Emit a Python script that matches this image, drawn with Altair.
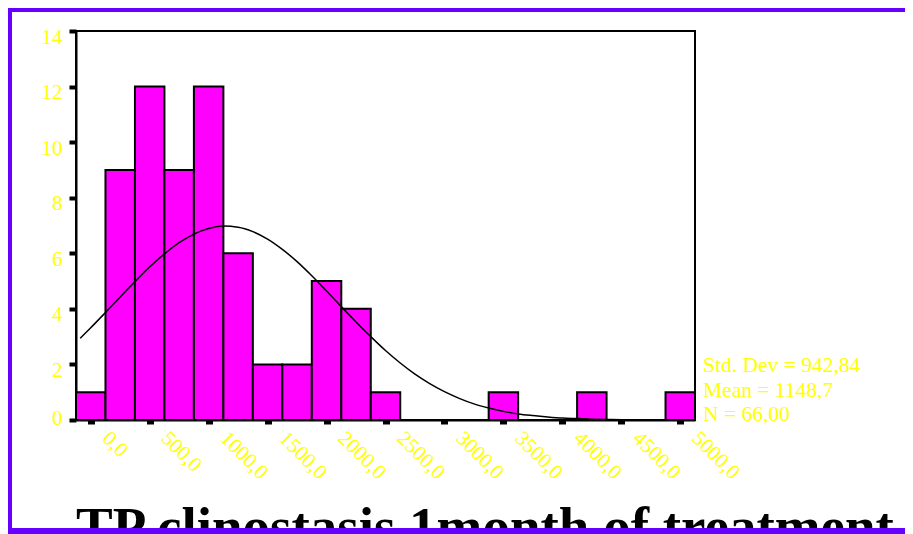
import altair as alt
import pandas as pd

# ---- data ----
bin_centers = [0, 250, 500, 750, 1000, 1250, 1500, 1750, 2000, 2250, 2500, 3500, 4250, 5000]
counts = [1, 9, 12, 9, 12, 6, 2, 2, 5, 4, 1, 1, 1, 1]
bin_half = 125

curve_x = [-90, 0, 125, 250, 375, 500, 625, 750, 875, 1000, 1125, 1250, 1375, 1500,
           1625, 1750, 1875, 2000, 2125, 2250, 2375, 2500, 2625, 2750, 2875, 3000,
           3125, 3250, 3375, 3500, 3625, 3750, 3875, 4000, 4125, 4250, 4375, 4500,
           4625, 4750, 4875, 5000, 5125]
curve_y = [2.94, 3.32, 3.87, 4.43, 4.98, 5.51, 5.98, 6.38, 6.69, 6.89, 6.98, 6.94, 6.78, 6.51,
           6.14, 5.70, 5.19, 4.64, 4.08, 3.53, 3.00, 2.50, 2.05, 1.65, 1.31, 1.02,
           0.78, 0.58, 0.43, 0.31, 0.22, 0.16, 0.11, 0.07, 0.05, 0.03, 0.02, 0.01,
           0.01, 0.0, 0.0, 0.0, 0.0]

x_ticks = [0, 500, 1000, 1500, 2000, 2500, 3000, 3500, 4000, 4500, 5000]
y_ticks = [0, 2, 4, 6, 8, 10, 12, 14]
stats_lines = ["Std. Dev = 942,84", "Mean = 1148,7", "N = 66,00"]
title_text = "TP clinostasis 1month of treatment"

FONT = "Liberation Serif"
YELLOW = "#FFFF00"
PURPLE = "#6600FF"
MAGENTA = "#FF00FF"

bars_df = pd.DataFrame({"center": bin_centers, "count": counts})
curve_df = pd.DataFrame({"x": curve_x, "y": curve_y})

xscale = alt.Scale(domain=[-125, 5125], nice=False, zero=False)
yscale = alt.Scale(domain=[0, 14], nice=False)

xaxis = alt.Axis(
    values=x_ticks, title=None, labelAngle=45, labelAlign="left",
    labelBaseline="alphabetic", labelOffset=10, labelPadding=15,
    tickSize=4, tickWidth=7, labelExpr="replace(format(datum.value, '.1f'), '.', ',')",
)
yaxis = alt.Axis(
    values=y_ticks, title=None, tickSize=7, tickWidth=4, labelPadding=7,
    labelExpr="format(datum.value, 'd')",
    labelOffset={"condition": {"test": "datum.value == 0", "value": -2}, "value": 6},
)

bars = alt.Chart(bars_df).transform_calculate(
    x0=f"datum.center - {bin_half}", x1=f"datum.center + {bin_half}"
).mark_rect(fill=MAGENTA, stroke="black", strokeWidth=2).encode(
    x=alt.X("x0:Q", scale=xscale, axis=xaxis),
    x2="x1:Q",
    y=alt.Y("count:Q", scale=yscale, axis=yaxis),
    y2=alt.datum(0),
)

curve = alt.Chart(curve_df).mark_line(color="black", strokeWidth=1.5, interpolate="monotone").encode(
    x=alt.X("x:Q", scale=xscale),
    y=alt.Y("y:Q", scale=yscale),
)

one = pd.DataFrame({"k": [0]})

stats = alt.Chart(one).mark_text(
    text="\n".join(stats_lines), lineBreak="\n", lineHeight=24.5, align="left",
    baseline="alphabetic", font=FONT, fontSize=21.5, color=YELLOW,
).encode(x=alt.value(627), y=alt.value(341))

title = alt.Chart(one).mark_text(
    text=title_text, align="left", baseline="alphabetic", font=FONT,
    fontSize=55, fontWeight="bold", color="black",
).encode(x=alt.value(0), y=alt.value(514))

border_left = alt.Chart(one).mark_rect(color=PURPLE).encode(
    x=alt.value(-68), x2=alt.value(-64), y=alt.value(-23), y2=alt.value(503))
border_top = alt.Chart(one).mark_rect(color=PURPLE).encode(
    x=alt.value(-68), x2=alt.value(829), y=alt.value(-23), y2=alt.value(-19))
border_bottom = alt.Chart(one).mark_rect(color=PURPLE).encode(
    x=alt.value(-68), x2=alt.value(829), y=alt.value(497), y2=alt.value(503))

chart = alt.layer(bars, curve, stats, title, border_bottom, border_left, border_top).properties(
    width=619, height=389,
    autosize=alt.AutoSizeParams(type="none"),
    padding={"left": 68, "top": 23, "right": 210, "bottom": 114},
    background="white",
).configure_view(stroke="black", strokeWidth=2).configure_axis(
    domainColor="black", domainWidth=2, tickColor="black", grid=False,
    labelColor=YELLOW, labelFont=FONT, labelFontSize=21,
)

chart.save("out.html", embed_options={"renderer": "svg", "actions": False})
